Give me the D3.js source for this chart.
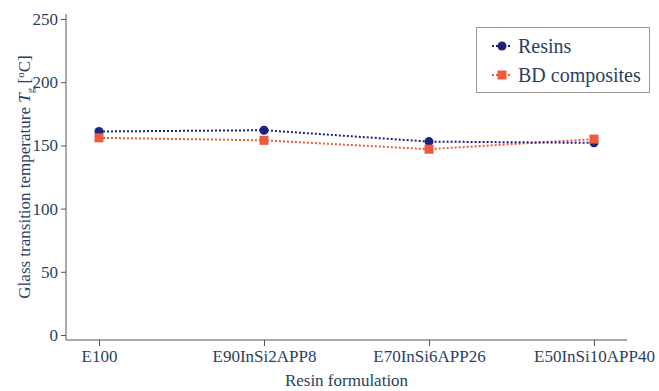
<!DOCTYPE html>
<html>
<head>
<meta charset="utf-8">
<script src="https://cdn.jsdelivr.net/npm/d3@7"></script>
<style>
  html, body { margin: 0; padding: 0; background: #fff; }
  svg { display: block; }
</style>
</head>
<body>
<svg id="chart" width="659" height="391"></svg>
<script>
// Formulations on the x axis
const categories = ["E100", "E90InSi2APP8", "E70InSi6APP26", "E50InSi10APP40"];
// Glass transition temperatures (°C)
const resins = [161, 162, 153, 152];
const bdComposites = [156, 154, 147, 155];
const yTicks = [0, 50, 100, 150, 200, 250];

const textColor = "#2a3f5f";
const axisColor = "#555";
const font = "'Liberation Serif', 'Times New Roman', serif";

const svg = d3.select("#chart");
const margin = { left: 66, right: 32, top: 19, bottom: 56 };
const W = 659, H = 391;

const x = d3.scalePoint()
  .domain(categories)
  .range([margin.left, W - margin.right])
  .padding(0.2);

const y = d3.scaleLinear()
  .domain([0, 250])
  .range([335, 19]);

// y axis
const yAxis = svg.append("g")
  .attr("transform", `translate(${margin.left},0)`)
  .call(d3.axisLeft(y).tickValues(yTicks).tickSize(5).tickPadding(3));
yAxis.select(".domain").remove();
yAxis.append("line")
  .attr("x1", 0).attr("x2", 0)
  .attr("y1", 14).attr("y2", 340)
  .attr("stroke", axisColor).attr("stroke-width", 1);

// x axis
const xAxis = svg.append("g")
  .attr("transform", `translate(0,340)`)
  .call(d3.axisBottom(x).tickSize(6).tickPadding(4));
xAxis.select(".domain").remove();
xAxis.append("line")
  .attr("x1", margin.left).attr("x2", W - margin.right)
  .attr("y1", 0).attr("y2", 0)
  .attr("stroke", axisColor).attr("stroke-width", 1);

svg.selectAll(".tick line").attr("stroke", axisColor);
svg.selectAll(".tick text")
  .attr("fill", textColor)
  .style("font-family", font)
  .style("font-size", "17px");

// axis titles
svg.append("text")
  .attr("x", (margin.left + W - margin.right) / 2)
  .attr("y", 386)
  .attr("text-anchor", "middle")
  .attr("fill", textColor)
  .style("font-family", font)
  .style("font-size", "17px")
  .text("Resin formulation");

const yTitle = svg.append("text")
  .attr("transform", `translate(30,${(19 + 335) / 2}) rotate(-90)`)
  .attr("text-anchor", "middle")
  .attr("fill", textColor)
  .style("font-family", font)
  .style("font-size", "17px");
yTitle.append("tspan").text("Glass transition temperature ");
yTitle.append("tspan").attr("font-style", "italic").text("T");
yTitle.append("tspan").attr("font-size", "11px").attr("dy", 4).text("g");
yTitle.append("tspan").attr("dy", -4).text(" [");
yTitle.append("tspan").attr("font-size", "11px").attr("dy", -6).text("o");
yTitle.append("tspan").attr("dy", 6).text("C]");

// series
const series = [
  { name: "Resins", values: resins, color: "#1c2280", shape: "circle" },
  { name: "BD composites", values: bdComposites, color: "#f05a3c", shape: "square" }
];

const line = d3.line()
  .x((d, i) => x(categories[i]))
  .y(d => y(d));

function drawMarker(g, s, cx, cy) {
  if (s.shape === "circle") {
    g.append("circle").attr("cx", cx).attr("cy", cy).attr("r", 4.5).attr("fill", s.color);
  } else {
    g.append("rect").attr("x", cx - 4.5).attr("y", cy - 4.5)
      .attr("width", 9).attr("height", 9).attr("fill", s.color);
  }
}

// dotted connecting lines, then markers on top
series.slice().reverse().forEach(s => {
  svg.append("path")
    .datum(s.values)
    .attr("d", line)
    .attr("fill", "none")
    .attr("stroke", s.color)
    .attr("stroke-width", 2)
    .attr("stroke-dasharray", "2,2");
});
series.forEach(s => {
  const g = svg.append("g");
  s.values.forEach((v, i) => drawMarker(g, s, x(categories[i]), y(v)));
});

// legend
const lg = svg.append("g");
lg.append("rect")
  .attr("x", 476.5).attr("y", 27.5)
  .attr("width", 173).attr("height", 65)
  .attr("fill", "#fff")
  .attr("stroke", "#999").attr("stroke-width", 1);
series.forEach((s, i) => {
  const cy = 46 + i * 29;
  lg.append("line")
    .attr("x1", 492).attr("x2", 512)
    .attr("y1", cy).attr("y2", cy)
    .attr("stroke", s.color).attr("stroke-width", 2)
    .attr("stroke-dasharray", "2,2");
  drawMarker(lg, s, 502, cy);
  lg.append("text")
    .attr("x", 518).attr("y", cy + 7)
    .attr("fill", textColor)
    .style("font-family", font)
    .style("font-size", "20px")
    .text(s.name);
});
</script>
</body>
</html>
